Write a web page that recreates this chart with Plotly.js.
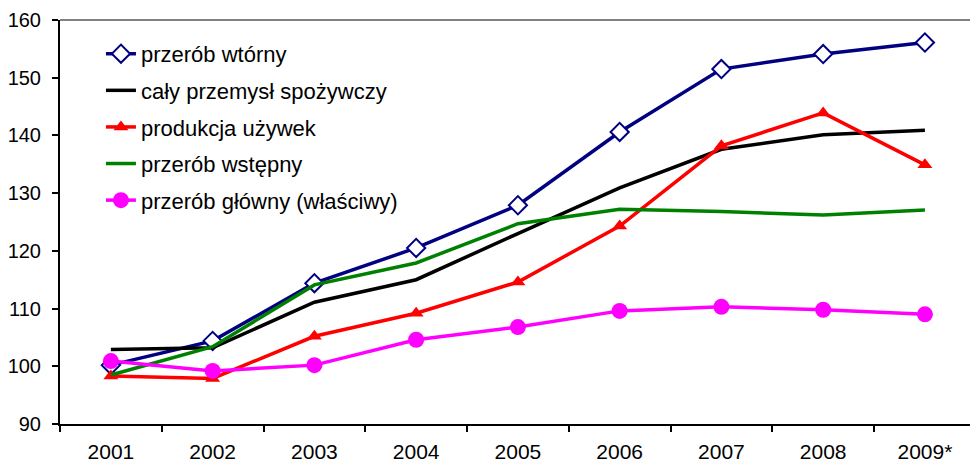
<!DOCTYPE html>
<html><head><meta charset="utf-8">
<script src="https://cdn.plot.ly/plotly-3.0.1.min.js"></script>
<style>html,body{margin:0;padding:0;background:#fff;}#chart{width:970px;height:463px;}</style>
</head><body><div id="chart"></div>
<script>
var years = ["2001","2002","2003","2004","2005","2006","2007","2008","2009*"];
var wtorny = [100.2,104.4,114.4,120.5,127.9,140.6,151.5,154.1,156.1];
var caly = [102.9,103.2,111.1,115.0,123.0,130.9,137.6,140.1,140.9];
var uzywki = [98.3,97.9,105.2,109.2,114.6,124.3,138.2,143.9,134.9];
var wstepny = [98.5,103.4,114.1,117.9,124.7,127.2,126.8,126.2,127.1];
var glowny = [100.9,99.2,100.2,104.6,106.8,109.6,110.3,109.8,109.0];
var names = ["przerób wtórny","cały przemysł spożywczy","produkcja używek","przerób wstępny","przerób główny (właściwy)"];

var traces = [
 {x:years,y:wtorny,name:names[0],mode:"lines+markers",legendgroup:"a",
  line:{color:"#000080",width:3.5},marker:{symbol:"diamond",size:14,color:"#ffffff",line:{color:"#000080",width:2}}},
 {x:years,y:caly,name:names[1],mode:"lines",legendgroup:"b",line:{color:"#000000",width:3.5}},
 {x:years,y:uzywki,name:names[2],mode:"lines+markers",legendgroup:"c",
  line:{color:"#ff0000",width:3.5},marker:{symbol:"triangle-up",size:13,color:"#ff0000"}},
 {x:years,y:wstepny,name:names[3],mode:"lines",legendgroup:"d",line:{color:"#008000",width:3.5}},
 {x:years,y:glowny,name:names[4],mode:"lines+markers",legendgroup:"e",
  line:{color:"#ff00ff",width:3.5},marker:{symbol:"circle",size:16,color:"#ff00ff"}}
];
var fam = "Liberation Sans, Arial, sans-serif";
var fy = {family:fam,size:20,color:"#000"};
var fx = {family:fam,size:21,color:"#000"};
var fl = {family:fam,size:22,color:"#000"};
var layout = {
 width:970,height:463,margin:{l:60,r:0,t:20,b:39},
 paper_bgcolor:"#fff",plot_bgcolor:"#fff",font:fy,
 showlegend:true,
 legend:{x:0.045,y:0.968,xanchor:"left",yanchor:"top",font:fl,bgcolor:"rgba(0,0,0,0)",
   traceorder:"grouped",tracegroupgap:5},
 xaxis:{type:"category",range:[-0.5,8.443],tickson:"boundaries",ticks:"outside",ticklen:6,tickwidth:2,
   tickcolor:"#000",showline:true,linecolor:"#000",linewidth:2,showgrid:false,zeroline:false,tickfont:fx,
   ticklabelstandoff:8},
 yaxis:{range:[90,160],dtick:10,ticks:"outside",ticklen:6,tickwidth:2,tickcolor:"#000",
   showline:true,linecolor:"#000",linewidth:2,showgrid:false,zeroline:false,tickfont:fy,
   ticklabelstandoff:7},
 shapes:[{type:"line",xref:"paper",yref:"paper",x0:0,x1:1,y0:1,y1:1,line:{color:"#808080",width:2}}]
};
Plotly.newPlot("chart",traces,layout,{staticPlot:true});
</script></body></html>
